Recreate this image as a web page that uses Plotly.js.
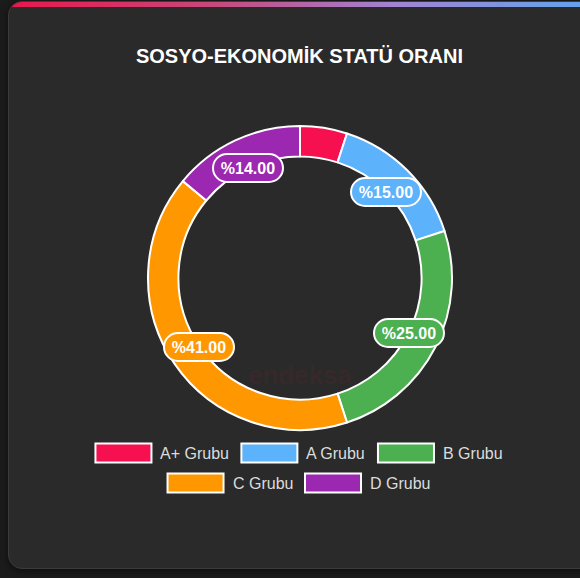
<!DOCTYPE html>
<html><head><meta charset="utf-8">
<script src="https://cdn.plot.ly/plotly-3.0.1.min.js"></script>
<style>
html,body{margin:0;padding:0;background:#1b1b1b;width:580px;height:578px;overflow:hidden;}
#card{position:absolute;left:8px;top:1px;width:600px;height:568px;background:#2a2a2a;border:1px solid #3b3b3b;border-radius:14px;box-sizing:border-box;overflow:hidden;box-shadow:0 2px 6px rgba(0,0,0,0.5);}
#bar{position:absolute;left:0;top:0;right:0;height:5px;background:linear-gradient(90deg,#e8174c 0%,#c64a7c 35%,#a184d4 65%,#5aa6ee 100%);}
#chart{position:absolute;left:0;top:0;width:580px;height:578px;}
</style></head>
<body><div id="card"><div id="bar"></div></div><div id="chart"></div>
<script>
// ---- data ----
const categories = ['A+ Grubu', 'A Grubu', 'B Grubu', 'C Grubu', 'D Grubu'];
const values = [5, 15, 25, 41, 14];
const colors = ['#f7104f', '#5cb2fb', '#4caf50', '#ff9800', '#9c27b0'];
const titleText = 'SOSYO-EKONOMİK STATÜ ORANI';

// ---- geometry (pixels) ----
const W = 580, H = 578;
const cx = 300, cy = 278, R = 152, hole = 0.8;
const labelR = 122;
const px2x = p => p / W;
const py2y = p => 1 - p / H;

const total = values.reduce((a, b) => a + b, 0);

// value labels on the ring
const annotations = [];
let cum = 0;
values.forEach((v, i) => {
  const mid = (cum + v / 2) / total * 2 * Math.PI;
  cum += v;
  if (v / total < 0.08) return;
  const lx = cx + labelR * Math.sin(mid);
  const ly = cy - labelR * Math.cos(mid);
  annotations.push({
    xref: 'paper', yref: 'paper', x: px2x(lx), y: py2y(ly),
    xanchor: 'center', yanchor: 'middle', showarrow: false,
    text: '<b>%' + (v / total * 100).toFixed(2) + '</b>',
    font: {family: 'Liberation Sans, Arial, sans-serif', size: 16, color: '#ffffff'},
    bgcolor: colors[i], bordercolor: '#ffffff', borderwidth: 2, borderpad: 3,
    width: 62, height: 20
  });
});

// watermark
annotations.push({
  xref: 'paper', yref: 'paper', x: px2x(300), y: py2y(375), showarrow: false,
  text: '<b>endeksa</b>', font: {family: 'Liberation Sans, Arial', size: 26, color: 'rgba(190,30,60,0.10)'}
});

// custom legend
const shapes = [];
const ctx = document.createElement('canvas').getContext('2d');
const legFont = 16;
ctx.font = legFont + 'px "Liberation Sans", Arial, sans-serif';
const boxW = 56, boxH = 19, gapBT = 7, itemGap = 14, maxRow = 450;
const items = categories.map((c, i) => ({c, i, w: boxW + gapBT + ctx.measureText(c).width}));
const rows = [];
let row = [], rw = 0;
items.forEach(it => {
  const add = (row.length ? itemGap : 0) + it.w;
  if (row.length && rw + add > maxRow) { rows.push(row); row = []; rw = 0; }
  rw += (row.length ? itemGap : 0) + it.w;
  row.push(it);
});
if (row.length) rows.push(row);
const rowY0 = 453, rowStep = 30, legCx = 298;
rows.forEach((r, ri) => {
  const tw = r.reduce((a, it) => a + it.w, 0) + itemGap * (r.length - 1);
  let x = legCx - tw / 2;
  const y = rowY0 + ri * rowStep;
  r.forEach(it => {
    shapes.push({type: 'rect', xref: 'paper', yref: 'paper',
      x0: px2x(x), x1: px2x(x + boxW), y0: py2y(y - boxH / 2), y1: py2y(y + boxH / 2),
      fillcolor: colors[it.i], line: {color: '#ffffff', width: 2}});
    annotations.push({xref: 'paper', yref: 'paper', x: px2x(x + boxW + gapBT), y: py2y(y),
      xanchor: 'left', yanchor: 'middle', showarrow: false, text: it.c,
      font: {family: 'Liberation Sans, Arial, sans-serif', size: legFont, color: '#dcdcdc'}});
    x += it.w + itemGap;
  });
});

const trace = {
  type: 'pie', labels: categories, values: values, sort: false,
  direction: 'clockwise', rotation: 0, hole: hole,
  marker: {colors: colors, line: {color: '#ffffff', width: 2}},
  textinfo: 'none', hoverinfo: 'none', showlegend: false,
  domain: {x: [px2x(cx - R), px2x(cx + R)], y: [py2y(cy + R), py2y(cy - R)]}
};

const layout = {
  width: W, height: H, margin: {l: 0, r: 0, t: 0, b: 0},
  paper_bgcolor: 'rgba(0,0,0,0)', plot_bgcolor: 'rgba(0,0,0,0)',
  showlegend: false,
  title: {text: '<b>' + titleText + '</b>', x: 299.5 / W, xanchor: 'center',
    y: 1 - 56 / H, yanchor: 'middle',
    font: {family: 'Liberation Sans, Arial, sans-serif', size: 20, color: '#ffffff'}},
  annotations: annotations, shapes: shapes
};

Plotly.newPlot('chart', [trace], layout, {displayModeBar: false, staticPlot: true}).then(gd => {
  gd.querySelectorAll('.annotation-text-g rect.bg').forEach(r => {
    const h = parseFloat(r.getAttribute('height')) || 0;
    r.setAttribute('rx', h / 2); r.setAttribute('ry', h / 2);
  });
});
</script>
</body></html>
